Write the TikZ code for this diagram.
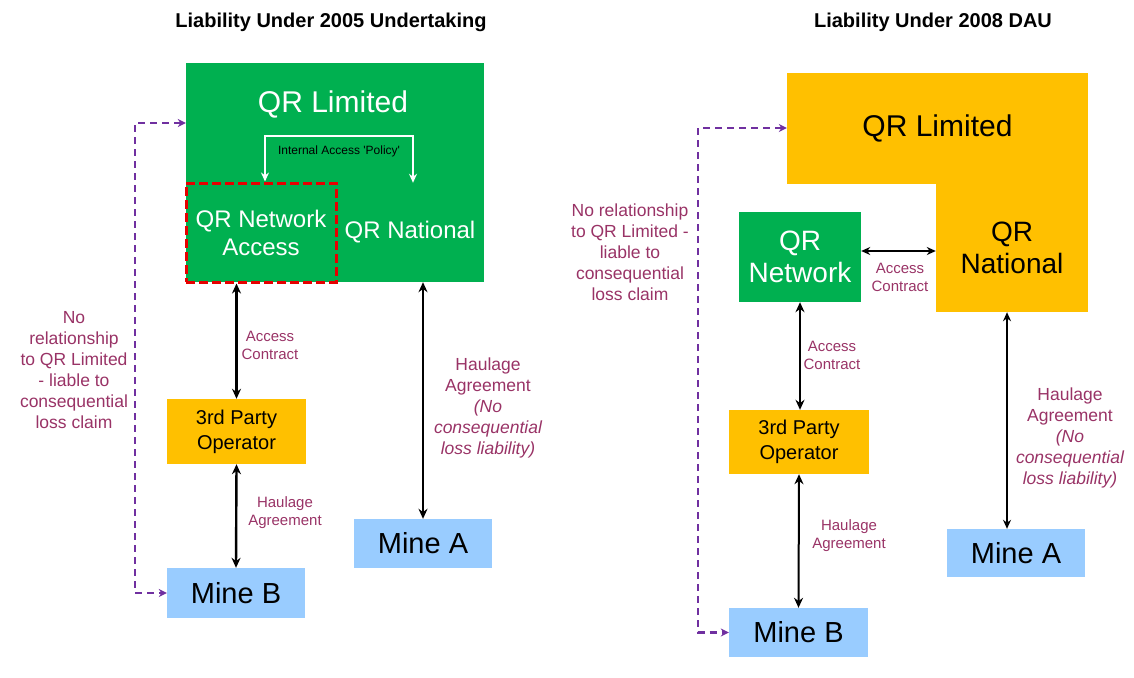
\documentclass[tikz,border=0pt]{standalone}
\usepackage{fontspec}
\setmainfont{Liberation Sans}
\usetikzlibrary{calc,arrows,arrows.meta}
\usepackage{xcolor}
\definecolor{qrgreen}{RGB}{0,176,80}
\definecolor{qrorange}{RGB}{255,192,0}
\definecolor{mineblue}{RGB}{153,204,255}
\definecolor{deedred}{RGB}{153,51,102}
\definecolor{nopurple}{RGB}{112,48,160}
\definecolor{accessred}{RGB}{230,0,0}

\begin{document}
\begin{tikzpicture}[x=1pt,y=-1pt,
			unit/.style={inner sep=0pt, align=center},
			greenunit/.style={unit, fill=qrgreen, text=white},
			orangeunit/.style={unit, fill=qrorange, text=black},
			operator/.style={unit, fill=qrorange, font=\fontsize{20}{25}\selectfont},
			mine/.style={unit, fill=mineblue, font=\fontsize{29}{34}\selectfont},
			deed/.style={unit, text=deedred, font=\fontsize{15}{18}\selectfont},
			deedlong/.style={unit, text=deedred, font=\fontsize{17.5}{21}\selectfont},
			title/.style={unit, font=\fontsize{20}{24}\selectfont\bfseries},
			link/.style={{Stealth[length=10pt,width=9pt]}-{Stealth[length=10pt,width=9pt]}, line width=2.4pt},
			thinlink/.style={{Stealth[length=9pt,width=8pt]}-{Stealth[length=9pt,width=8pt]}, line width=1.6pt},
			norel/.style={{Stealth[length=8pt,width=8pt]}-{Stealth[length=8pt,width=8pt]}, nopurple, line width=2.4pt, dash pattern=on 7pt off 5pt}]
			\useasboundingbox (0,0) rectangle (1134,677);
			
			\node[title] (titleA) at (331,22) {Liability Under 2005 Undertaking};
			\node[title] (titleB) at (933,22) {Liability Under 2008 DAU};
			
			\node[greenunit, minimum width=298pt, minimum height=219pt] (limA) at (335,172.5) {};
			\node[unit, text=white, font=\fontsize{30}{36}\selectfont] (limAname) at (333,104) {QR Limited};
			\node[unit, text=white, draw=accessred, line width=3pt, dash pattern=on 9pt off 4pt, minimum width=150pt, minimum height=99pt, font=\fontsize{24}{28}\selectfont] (netA) at (261,232.5) {QR Network\\Access};
			\node[unit, text=white, minimum width=148pt, minimum height=99pt, font=\fontsize{24}{28}\selectfont] (natA) at (410,232.5) {QR National};
			\draw[white, line width=2pt, {Stealth[length=9pt,width=8pt]}-{Stealth[length=9pt,width=8pt]}] ([xshift=4pt]netA.north) -- ++(0,-46) -| node[pos=0.25, below=6pt, text=black, font=\fontsize{12}{14}\selectfont] (policy) {Internal Access \textquotesingle Policy\textquotesingle} ([xshift=3pt]natA.north);
			
			\node[operator, minimum width=139pt, minimum height=65pt] (opA) at (236.5,431.5) {3rd Party\\Operator};
			\node[mine, minimum width=138pt, minimum height=50pt] (mineBA) at (236,593) {Mine B};
			\node[mine, minimum width=138pt, minimum height=49pt] (mineAA) at (423,543.5) {Mine A};
			
			\draw[link] (opA.north |- netA.south) -- (opA.north);
			\draw[link] (opA.south) -- (mineBA.north);
			\draw[link] (mineAA.north |- natA.south) -- (mineAA.north);
			
			\node[deed] (accA) at (270,345) {Access\\Contract};
			\node[deed] (haulA) at (285,513) {Haulage\\Agreement};
			\node[deedlong] (haulAA) at (488,408) {Haulage\\Agreement\\{\itshape (No}\\{\itshape consequential}\\{\itshape loss liability)}};
			
			\coordinate (nrA) at (135,123);
			\draw[norel] (nrA -| limA.west) -- (nrA) |- (mineBA.west);
			\node[deedlong] (noteA) at (74,370) {No\\relationship\\to QR Limited\\- liable to\\consequential\\loss claim};
			
			\node[orangeunit, minimum width=301pt, minimum height=111pt, font=\fontsize{30}{36}\selectfont] (limB) at (937.5,128.5) {QR Limited};
			\node[orangeunit, minimum width=152pt, minimum height=129pt, font=\fontsize{28}{32}\selectfont] (natB) at (1012,247.5) {QR\\National};
			\node[greenunit, minimum width=122pt, minimum height=90pt, font=\fontsize{28}{32}\selectfont] (netB) at (800,257) {QR\\Network};
			
			\node[operator, minimum width=140pt, minimum height=64pt] (opB) at (799,442) {3rd Party\\Operator};
			\node[mine, minimum width=139pt, minimum height=49pt] (mineBB) at (798.5,632.5) {Mine B};
			\node[mine, minimum width=138pt, minimum height=48pt] (mineAB) at (1016,553) {Mine A};
			
			\draw[thinlink] ([yshift=6pt]netB.east) -- ([yshift=6pt]netB.east -| natB.west);
			\draw[link, line width=2pt] (netB.south) -- (netB.south |- opB.north);
			\draw[link, line width=2pt] (opB.south) -- (mineBB.north);
			\draw[thinlink] ([xshift=-9pt]mineAB.north) -- ([xshift=-9pt]mineAB.north |- natB.south);
			
			\node[deed] (accB) at (900,277) {Access\\Contract};
			\node[deed] (accBB) at (832,355) {Access\\Contract};
			\node[deed] (haulB) at (849,536) {Haulage\\Agreement};
			\node[deedlong] (haulBB) at (1070,438) {Haulage\\Agreement\\{\itshape (No}\\{\itshape consequential}\\{\itshape loss liability)}};
			
			\coordinate (nrB) at (698,128);
			\draw[norel] (nrB -| limB.west) -- (nrB) |- (mineBB.west);
			\node[deedlong] (noteB) at (630,252) {No relationship\\to QR Limited -\\liable to\\consequential\\loss claim};
\end{tikzpicture}
\end{document}
